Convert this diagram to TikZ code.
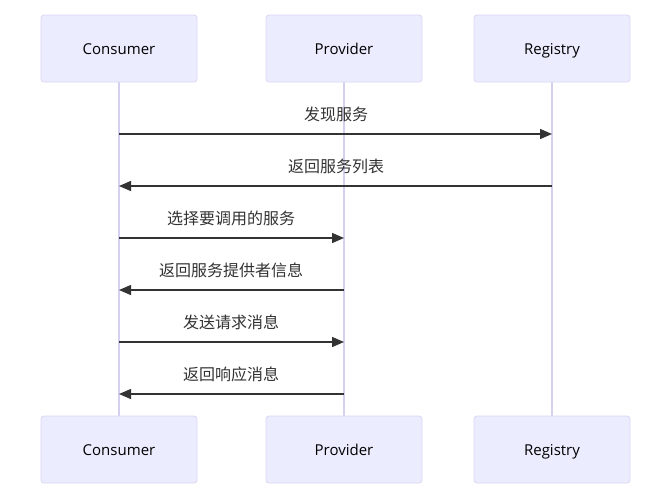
\documentclass[tikz,border=0pt]{standalone}
\usepackage{fontspec}
\setmainfont{Open Sans}
\newfontfamily\cjk{Noto Sans CJK SC}
\usetikzlibrary{arrows.meta}
\definecolor{actfill}{HTML}{ECECFF}
\definecolor{actdraw}{HTML}{DCD6F2}
\definecolor{lifeln}{HTML}{D6D0F0}
\definecolor{msgcol}{HTML}{333333}
\tikzset{
  actor/.style={draw=actdraw, fill=actfill, rounded corners=3pt, minimum width=156pt, minimum height=67pt, line width=0.8pt, font=\fontsize{15}{18}\selectfont, text=black, inner sep=0pt, text height=13pt, text depth=2pt},
  life/.style={draw=lifeln, line width=1.2pt},
  msg/.style={draw=msgcol, line width=1.4pt, -{Triangle[length=12pt,width=10pt]}},
  lbl/.style={font=\cjk\fontsize{16}{19}\selectfont, text=msgcol, inner sep=0pt}
}
\begin{document}
\begin{tikzpicture}[x=1pt,y=-1pt]
\useasboundingbox[fill=white] (0,0) rectangle (671,499);
% lifelines
\coordinate (ct) at (119,82); \coordinate (cb) at (119,416);
\coordinate (pt) at (344,82); \coordinate (pb) at (344,416);
\coordinate (rt) at (552,82); \coordinate (rb) at (552,416);
\draw[life] (ct) -- (cb);
\draw[life] (pt) -- (pb);
\draw[life] (rt) -- (rb);
% actors
\node[actor] (c1) at (119,48.5) {Consumer};
\node[actor] (p1) at (344,48.5) {Provider};
\node[actor] (r1) at (552,48.5) {Registry};
\node[actor] (c2) at (119,449.5) {Consumer};
\node[actor] (p2) at (344,449.5) {Provider};
\node[actor] (r2) at (552,449.5) {Registry};
% message anchor points
\coordinate (c134) at (119,134); \coordinate (r134) at (552,134);
\coordinate (c186) at (119,186); \coordinate (r186) at (552,186);
\coordinate (c238) at (119,238); \coordinate (p238) at (344,238);
\coordinate (c290) at (119,290); \coordinate (p290) at (344,290);
\coordinate (c342) at (119,342); \coordinate (p342) at (344,342);
\coordinate (c394) at (119,394); \coordinate (p394) at (344,394);
\draw[msg] (c134) -- (r134);
\draw[msg] (r186) -- (c186);
\draw[msg] (c238) -- (p238);
\draw[msg] (p290) -- (c290);
\draw[msg] (c342) -- (p342);
\draw[msg] (p394) -- (c394);
\node[lbl] (m1) at (336,114) {发现服务};
\node[lbl] (m2) at (336,166) {返回服务列表};
\node[lbl] (m3) at (231,218) {选择要调用的服务};
\node[lbl] (m4) at (231,270) {返回服务提供者信息};
\node[lbl] (m5) at (231,322) {发送请求消息};
\node[lbl] (m6) at (231,374) {返回响应消息};
\end{tikzpicture}
\end{document}
